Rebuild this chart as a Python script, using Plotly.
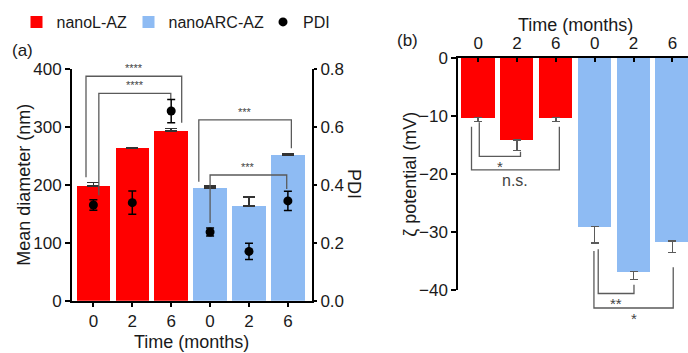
import plotly.graph_objects as go

# ---------------- data ----------------
time_labels = ["0", "2", "6"]
series_names = ["nanoL-AZ", "nanoARC-AZ"]

diam_L = [198, 263, 293]
diam_L_err = [6, 1.5, 4]
diam_ARC = [194, 163, 251]
diam_ARC_err = [3.5, 16, 3]

pdi_L = [0.33, 0.338, 0.654]
pdi_L_err = [0.018, 0.04, 0.04]
pdi_ARC = [0.237, 0.17, 0.344]
pdi_ARC_err = [0.014, 0.028, 0.033]

zeta_L = [-10.3, -14.2, -10.3]
zeta_L_err = [0.7, 1.8, 0.7]
zeta_ARC = [-29.1, -36.8, -31.6]
zeta_ARC_err = [2.8, 1.4, 1.9]

# significance brackets (category-index x, data y)
sig_a_x0 = [-0.19, 0.14, 2.71, 3.0]
sig_a_x1 = [2.27, 1.99, 5.09, 4.97]
sig_a_top = [387, 357.6, 311.6, 216.7]
sig_a_y0 = [213, 182, 205, 134]
sig_a_y1 = [307, 346, 263, 192.6]
sig_a_lab = ["****", "****", "***", "***"]

sig_b_x0 = [0.03, -0.17, 3.09, 2.98]
sig_b_x1 = [1.09, 2.09, 4.01, 5.02]
sig_b_bot = [-17.0, -19.3, -40.6, -43.1]
sig_b_y0 = [-11.1, -11.9, -33.0, -33.3]
sig_b_y1 = [-16.2, -11.9, -39.1, -36.1]
sig_b_lab = ["*", "n.s.", "**", "*"]

# ---------------- style ----------------
RED = "#FF0000"
BLUE = "#8EBBF3"
FONT = "Liberation Sans, Arial, sans-serif"
INK = "#1a1a1a"
GREY = "#5a5a5a"
W, H = 688, 353

nL = len(time_labels)
xs_L = list(range(nL))
xs_ARC = list(range(nL, 2 * nL))
tick_text = time_labels * 2
tick_vals = xs_L + xs_ARC

# domains (paper fractions)
ax_dom = [72 / W, 312 / W]
ay_dom = [1 - 300.7 / H, 1 - 68.7 / H]
bx_dom = [458.3 / W, 1.0]
by_dom = [1 - 290 / H, 1 - 57.7 / H]
b_range = [-40, 0]
# extended invisible axis, same scale as zeta axis, for brackets below the axis
ext_lo = b_range[0] * (by_dom[1] - 0) / (by_dom[1] - by_dom[0])

fig = go.Figure()

BAR_W = 0.86
fig.add_trace(go.Bar(
    x=xs_L, y=diam_L, name=series_names[0], marker_color=RED, width=BAR_W,
    marker_line_width=0,
    error_y=dict(type="data", symmetric=False, array=diam_L_err,
                 arrayminus=[0] * nL, color="#333333", thickness=1.5, width=6),
    xaxis="x", yaxis="y", legend="legend"))
fig.add_trace(go.Bar(
    x=xs_ARC, y=diam_ARC, name=series_names[1], marker_color=BLUE, width=BAR_W,
    marker_line_width=0,
    error_y=dict(type="data", symmetric=False, array=diam_ARC_err,
                 arrayminus=[0] * nL, color="#333333", thickness=1.5, width=6),
    xaxis="x", yaxis="y", legend="legend2"))

# brackets panel a
for i in range(len(sig_a_lab)):
    fig.add_trace(go.Scatter(
        x=[sig_a_x0[i], sig_a_x0[i], sig_a_x1[i], sig_a_x1[i]],
        y=[sig_a_y0[i], sig_a_top[i], sig_a_top[i], sig_a_y1[i]],
        mode="lines", line=dict(color=GREY, width=1.3),
        showlegend=False, hoverinfo="skip", xaxis="x", yaxis="y"))

fig.add_trace(go.Scatter(
    x=xs_L + xs_ARC, y=pdi_L + pdi_ARC, name="PDI", mode="markers",
    marker=dict(color="black", size=9),
    error_y=dict(type="data", array=pdi_L_err + pdi_ARC_err, color="black",
                 thickness=1.5, width=4),
    xaxis="x", yaxis="y3", legend="legend3"))

# panel b
fig.add_trace(go.Bar(
    x=xs_L, y=zeta_L, marker_color=RED, width=BAR_W, marker_line_width=0,
    error_y=dict(type="data", symmetric=False, array=[0] * nL,
                 arrayminus=zeta_L_err, color=GREY, thickness=1.5, width=4),
    showlegend=False, xaxis="x2", yaxis="y2"))
fig.add_trace(go.Bar(
    x=xs_ARC, y=zeta_ARC, marker_color=BLUE, width=BAR_W, marker_line_width=0,
    error_y=dict(type="data", symmetric=False, array=[0] * nL,
                 arrayminus=zeta_ARC_err, color=GREY, thickness=1.5, width=4),
    showlegend=False, xaxis="x2", yaxis="y2"))

for i in range(len(sig_b_lab)):
    fig.add_trace(go.Scatter(
        x=[sig_b_x0[i], sig_b_x0[i], sig_b_x1[i], sig_b_x1[i]],
        y=[sig_b_y0[i], sig_b_bot[i], sig_b_bot[i], sig_b_y1[i]],
        mode="lines", line=dict(color=GREY, width=1.3),
        showlegend=False, hoverinfo="skip", xaxis="x2", yaxis="y4"))

annotations = []
for i in range(len(sig_a_lab)):
    annotations.append(dict(
        x=(sig_a_x0[i] + sig_a_x1[i]) / 2, y=sig_a_top[i], xref="x", yref="y",
        text=sig_a_lab[i], showarrow=False, yanchor="bottom",
        font=dict(size=11, color="#444444", family=FONT)))
for i in range(len(sig_b_lab)):
    annotations.append(dict(
        x=(sig_b_x0[i] + sig_b_x1[i]) / 2, y=sig_b_bot[i], xref="x2", yref="y4",
        text=sig_b_lab[i], showarrow=False, yanchor="top",
        font=dict(size=16 if sig_b_lab[i] == "n.s." else 15, color="#444444", family=FONT)))

def ann(text, x, y, size=18, angle=0):
    return dict(text=text, x=x / W, y=1 - y / H, xref="paper", yref="paper",
                showarrow=False, textangle=angle, xanchor="center", yanchor="middle",
                font=dict(size=size, color=INK, family=FONT))

annotations += [
    ann("Time (months)", 191, 342),
    ann("Mean diameter (nm)", 24, 184.7, angle=-90),
    ann("PDI", 354, 184, angle=90),
    ann("(a)", 22, 50, size=17),
    ann("Time (months)", 575, 25),
    ann("ζ potential (mV)", 410, 173.8, angle=-90),
    ann("(b)", 407, 41, size=17),
]

tickfont = dict(size=17, color=INK, family=FONT)
axis_common = dict(showline=True, linecolor="black", linewidth=2, ticks="outside",
                   ticklen=5, tickwidth=2, tickcolor="black", showgrid=False,
                   zeroline=False, tickfont=tickfont, fixedrange=True, automargin=False)

legend_common = dict(orientation="h", yanchor="middle", xanchor="left",
                     font=dict(size=16, color=INK, family=FONT),
                     bgcolor="rgba(0,0,0,0)", borderwidth=0)

fig.update_layout(
    width=W, height=H, autosize=False,
    margin=dict(l=0, r=0, t=0, b=0),
    paper_bgcolor="white", plot_bgcolor="rgba(0,0,0,0)",
    bargap=0, barmode="overlay",
    font=dict(family=FONT, color=INK),
    xaxis=dict(domain=ax_dom, range=[-0.55, 5.62], tickvals=tick_vals,
               ticktext=tick_text, anchor="y", **{**axis_common, "ticklen": 4}),
    yaxis=dict(domain=ay_dom, range=[0, 400], dtick=100, anchor="x", **axis_common),
    yaxis3=dict(overlaying="y", side="right", anchor="x", range=[0, 0.8], dtick=0.2,
                tickformat=".1f", **{**axis_common, "ticklen": 3}),
    xaxis2=dict(domain=bx_dom, range=[-0.51, 5.4], tickvals=tick_vals,
                ticktext=tick_text, anchor="y2", side="top",
                **{**axis_common, "ticks": "inside", "ticklen": 4}),
    yaxis2=dict(domain=by_dom, range=b_range, dtick=10, anchor="x2", **axis_common),
    yaxis4=dict(domain=[0, by_dom[1]], range=[ext_lo, 0], anchor="x2", visible=False,
                fixedrange=True),
    legend=dict(x=16.5 / W, y=1 - 22 / H, **legend_common),
    legend2=dict(x=128.5 / W, y=1 - 22 / H, **legend_common),
    legend3=dict(x=263 / W, y=1 - 22 / H, **legend_common),
    annotations=annotations,
)

fig.write_html("out.html")
